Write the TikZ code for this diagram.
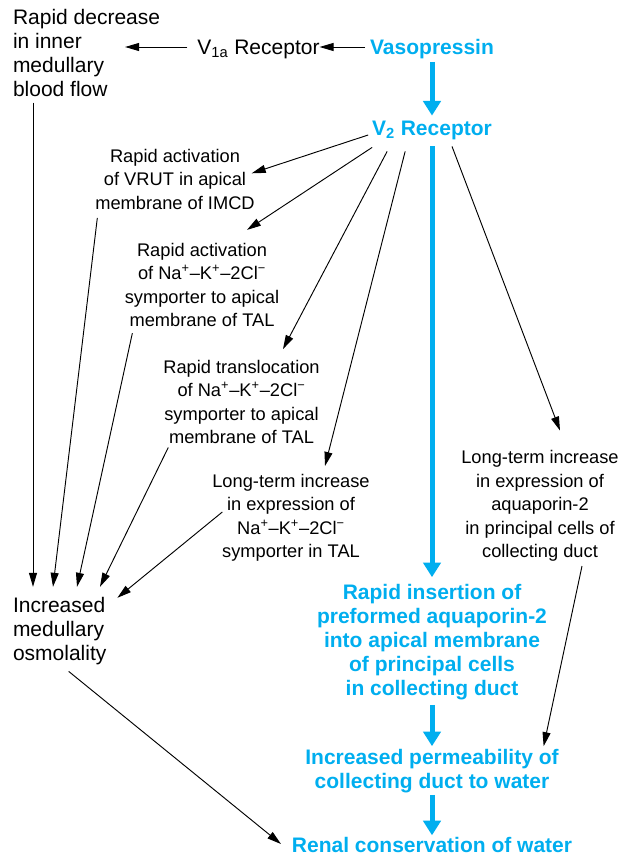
\documentclass[tikz,border=0pt]{standalone}
\usepackage{fontspec}
\setmainfont{Liberation Sans}
\usepackage{tikz}
\usetikzlibrary{arrows.meta,calc,positioning}
\definecolor{vpblue}{HTML}{00AEEF}

\begin{document}
\begin{tikzpicture}[
  x=0.75pt, y=-0.75pt,
  every node/.style={inner sep=0pt, outer sep=0pt},
  big/.style={font=\fontsize{15.75}{18}\selectfont, align=left, anchor=west},
  effect/.style={font=\fontsize{13.7}{17.6}\selectfont, align=center},
  hormone/.style={font=\fontsize{15.75}{18}\selectfont\bfseries, text=vpblue, align=center},
  thinarrow/.style={draw, line width=0.7pt, -{Triangle[length=10.5pt, width=6pt]}},
  mainarrow/.style={draw=vpblue, line width=3.75pt, -{Triangle[length=11pt, width=13pt]}}
]
\useasboundingbox (0,0) rectangle (633,856);

% hormone and receptors
\node[big] (decr) at (13,53.4) {Rapid decrease\\in inner\\medullary\\blood flow};
\node[font=\fontsize{15.75}{18}\selectfont] (v1a) at (258.5,49) {V\textsubscript{1a} Receptor};
\node[hormone] (vaso) at (432,49) {Vasopressin};
\node[hormone] (v2) at (432,130) {V\textsubscript{2} Receptor};

% effects of V2
\node[effect] (vrut) at (175,179.3) {Rapid activation\\of VRUT in apical\\membrane of IMCD};
\node[effect] (nkcc1) at (202,284.8) {Rapid activation\\of Na\textsuperscript{+}–K\textsuperscript{+}–2Cl\textsuperscript{−}\\symporter to apical\\membrane of TAL};
\node[effect] (trans) at (241.5,402) {Rapid translocation\\of Na\textsuperscript{+}–K\textsuperscript{+}–2Cl\textsuperscript{−}\\symporter to apical\\membrane of TAL};
\node[effect] (ltna) at (291,517.7) {Long-term increase\\in expression of\\Na\textsuperscript{+}–K\textsuperscript{+}–2Cl\textsuperscript{−}\\symporter in TAL};
\node[effect] (aqp) at (540,506) {Long-term increase\\in expression of\\aquaporin-2\\in principal cells of\\collecting duct};

\node[big] (osm) at (13,630.6) {Increased\\medullary\\osmolality};
\node[hormone] (ins) at (432,642) {Rapid insertion of\\preformed aquaporin-2\\into apical membrane\\of principal cells\\in collecting duct};
\node[hormone] (perm) at (432,771) {Increased permeability of\\collecting duct to water};
\node[hormone] (renal) at (432,845) {Renal conservation of water};

% main pathway
\draw[mainarrow] ([shift={(0,3)}]vaso.south) -- ([shift={(0,-5)}]v2.north);
\draw[mainarrow] ([shift={(0,7)}]v2.south) -- ([shift={(0,-7)}]ins.north);
\draw[mainarrow] ([shift={(0,5)}]ins.south) -- ([shift={(0,-3)}]perm.north);
\draw[mainarrow] ([shift={(0,2)}]perm.south) -- ([shift={(0,-2)}]renal.north);

% V1a branch
\draw[thinarrow] ([shift={(-5,-2)}]vaso.west) -- ([shift={(0,-2)}]v1a.east);
\draw[thinarrow] ([shift={(-10,-2)}]v1a.west) -- ([shift={(-35,-6.4)}]decr.east);

% from V2 receptor
\draw[thinarrow] ([shift={(-4,5)}]v2.west) -- ([shift={(-3,-6)}]vrut.east);
\draw[thinarrow] ([shift={(0,8)}]v2.south west) -- ([shift={(45,-13)}]nkcc1.north);
\draw[thinarrow] ([shift={(15,12)}]v2.south west) -- ([shift={(41.5,-11)}]trans.north);
\draw[thinarrow] ([shift={(33,12)}]v2.south west) -- ([shift={(34,-8)}]ltna.north);
\draw[thinarrow] ([shift={(20,7)}]v2.south) -- ([shift={(20,-20)}]aqp.north);
\draw[thinarrow] ([shift={(42,4.6)}]aqp.south) -- ([shift={(-15,-3)}]perm.north east);

% into medullary osmolality
\draw[thinarrow] ([shift={(20,5.5)}]decr.south west) -- ([shift={(20,-10)}]osm.north west);
\draw[thinarrow] ([shift={(2,8.5)}]vrut.south west) -- ([shift={(40,-10)}]osm.north west);
\draw[thinarrow] ([shift={(7.5,6.5)}]nkcc1.south west) -- ([shift={(64,-10)}]osm.north west);
\draw[thinarrow] ([shift={(5,3.5)}]trans.south west) -- ([shift={(87,-10)}]osm.north west);
\draw[thinarrow] ([shift={(10,-5.7)}]ltna.west) -- ([shift={(11,1)}]osm.north east);
\draw[thinarrow] ([shift={(9,7)}]osm.south) -- ([shift={(-11,-1)}]renal.west);
\end{tikzpicture}
\end{document}
